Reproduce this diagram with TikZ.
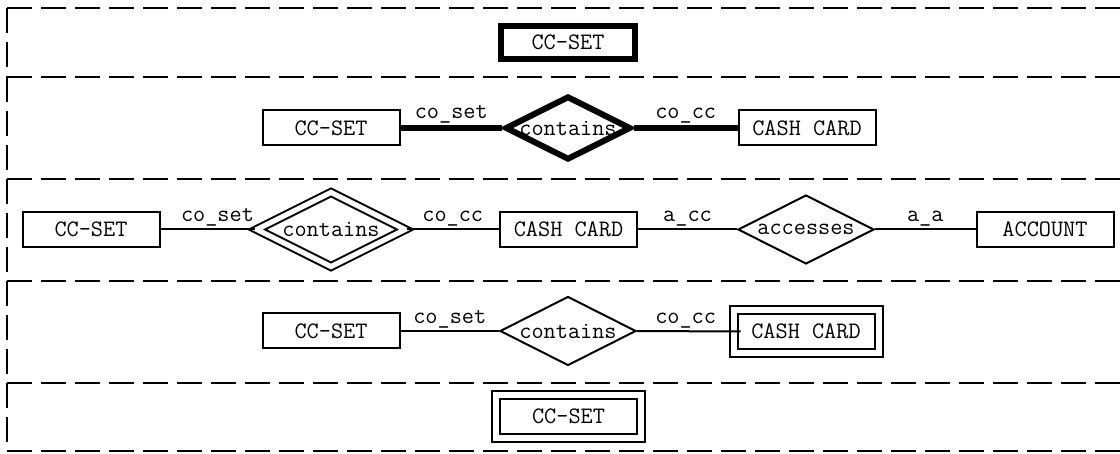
\documentclass[tikz,border=0pt]{standalone}
\usepackage{fontspec}
\usetikzlibrary{shapes.geometric}

\begin{document}
\begin{tikzpicture}[x=0.5pt,y=-0.5pt,
  font=\ttfamily\fontsize{11.8}{14}\selectfont,
  entity/.style={draw, line width=1pt, minimum width=68.5pt, minimum height=17.5pt, inner sep=0pt},
  boldentity/.style={entity, line width=3pt, minimum width=67pt, minimum height=16.5pt},
  weakentity/.style={entity, double, double distance=3pt, minimum width=72.5pt, minimum height=21.5pt},
  rel/.style={draw, diamond, line width=1pt, shape aspect=2, inner sep=0pt, minimum width=68pt, minimum height=34.5pt},
  boldrel/.style={rel, line width=3pt, minimum width=61.5pt, minimum height=32pt},
  weakrel/.style={rel, double, double distance=2.6pt, minimum width=74.5pt, minimum height=37.5pt},
  link/.style={line width=1pt},
  boldlink/.style={line width=3pt},
  role/.style={above, inner sep=1pt},
  band/.style={line width=1.2pt, dash pattern=on 12.5pt off 4.5pt}]
\clip (0,0) rectangle (1120,454);

\foreach \t/\b in {8/77, 77/179, 179/281, 281/383, 383/451}{
  \draw[band] (7,\t) -- (1130,\t);
  \draw[band] (7,\t) -- (7,\b);
}
\draw[band] (7,451) -- (1130,451);

\node[boldentity] (set1) at (568,42.5) {CC-SET};

\node[entity]  (set2)  at (331,128) {CC-SET};
\node[boldrel] (has2)  at (568,128) {contains};
\node[entity]  (card2) at (807,128) {CASH CARD};
\draw[boldlink] (set2) -- node[role]{co\_set} (has2);
\draw[boldlink] (has2) -- node[role]{co\_cc} (card2);

\node[entity]  (set3)  at (91,229.5)   {CC-SET};
\node[weakrel] (has3)  at (331,229.5)  {contains};
\node[entity]  (card3) at (568.5,229.5) {CASH CARD};
\node[rel]     (acc3)  at (806,229.5)  {accesses};
\node[entity]  (acct3) at (1045,229.5) {ACCOUNT};
\draw[link] (set3) -- node[role, pos=0.6]{co\_set} (has3);
\draw[link] (has3) -- node[role]{co\_cc} (card3);
\draw[link] (card3) -- node[role]{a\_cc} (acc3);
\draw[link] (acc3) -- node[role]{a\_a} (acct3);

\node[entity]     (set4)  at (331,331)   {CC-SET};
\node[rel]        (has4)  at (568,331)   {contains};
\node[weakentity] (card4) at (806,331.5) {CASH CARD};
\draw[link] (set4) -- node[role]{co\_set} (has4);
\draw[link] (has4.east) -- node[role, pos=0.47]{co\_cc} ([xshift=4pt]card4.west);

\node[weakentity] (set5) at (568.5,416.5) {CC-SET};

\end{tikzpicture}
\end{document}
